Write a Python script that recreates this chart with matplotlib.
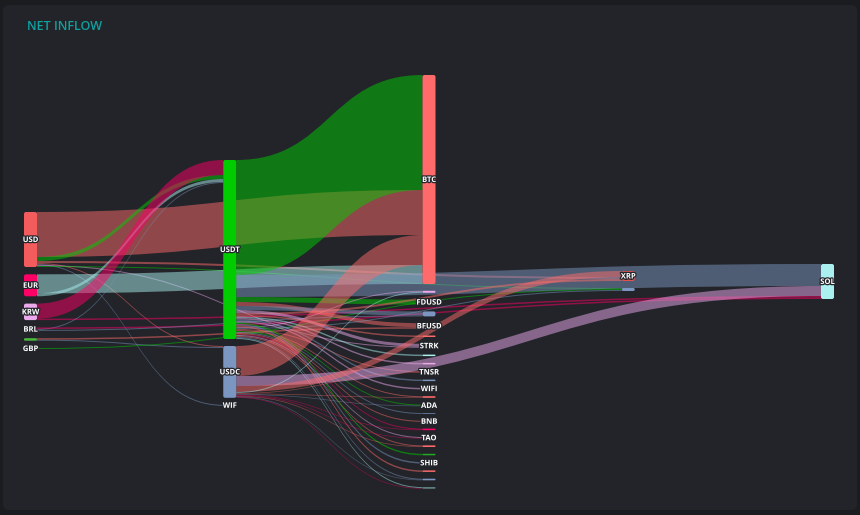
import matplotlib
matplotlib.use('Agg')
import matplotlib.pyplot as plt
from matplotlib.path import Path
from matplotlib.patches import PathPatch, FancyBboxPatch
import matplotlib.patheffects as pe

# ==== data ====
NODE_IDS = ["USD", "EUR", "KRW", "BRL", "g0", "GBP",
            "USDT", "USDC", "WIF",
            "BTC", "n1", "FDUSD", "n3", "BFUSD", "n5", "STRK", "n7", "n8", "TNSR",
            "n10", "WIFI", "n12", "ADA", "n14", "BNB", "n16", "TAO", "n18", "n19",
            "SHIB", "n21", "n22", "n23",
            "XRP", "m1",
            "SOL"]
NODE_LABELS = ["USD", "EUR", "KRW", "BRL", "", "GBP",
               "USDT", "USDC", "WIF",
               "BTC", "", "FDUSD", "", "BFUSD", "", "STRK", "", "", "TNSR",
               "", "WIFI", "", "ADA", "", "BNB", "", "TAO", "", "",
               "SHIB", "", "", "",
               "XRP", "",
               "SOL"]
NODE_COLUMN = [0, 0, 0, 0, 0, 0,
               1, 1, 1,
               2, 2, 2, 2, 2, 2, 2, 2, 2, 2, 2, 2, 2, 2, 2, 2, 2, 2, 2, 2, 2, 2, 2, 2,
               3, 3,
               4]

RED, GREEN, CYAN = "#ff6b6b", "#00cc00", "#aaf0f0"
SLATE, CRIMSON, LAV = "#7b96c0", "#ff0066", "#eba9eb"
NODE_COLORS = ["#f25c5c", CRIMSON, LAV, CRIMSON, "#4cbb3c", SLATE,
               GREEN, SLATE, "#d8c890",
               RED, LAV, GREEN, SLATE, LAV, RED, LAV, CYAN, LAV, RED,
               SLATE, LAV, RED, SLATE, "#5a7090", RED, CRIMSON, LAV, RED, "#22aa22",
               SLATE, RED, SLATE, "#668888",
               "#e85050", SLATE,
               CYAN]

# links: source, target, value, colour
LINK_SOURCE = ["USD", "USD", "USD", "USD", "USD", "USD", "USD",
               "EUR", "EUR", "KRW", "KRW",
               "BRL", "BRL", "BRL", "g0", "g0", "GBP",
               "USDT", "USDT", "USDT", "USDT", "USDT", "USDT", "USDT", "USDT", "USDT",
               "USDT", "USDT", "USDT", "USDT", "USDT", "USDT", "USDT", "USDT", "USDT",
               "USDT", "USDT", "USDT", "USDT", "USDT", "USDT", "USDT", "USDT", "USDT",
               "USDC", "USDC", "USDC", "USDC", "USDC", "USDC", "USDC", "USDC", "USDC",
               "USDC", "USDC", "USDC"]
LINK_TARGET = ["BTC", "USDT", "XRP", "USDC", "WIF", "STRK", "m1",
               "BTC", "USDT", "USDT", "SOL",
               "USDT", "SOL", "n3", "USDC", "BFUSD", "m1",
               "BTC", "SOL", "FDUSD", "BFUSD", "n3", "n1", "XRP", "m1", "STRK",
               "n5", "n7", "n8", "TNSR", "n10", "WIFI", "n12", "ADA", "n14",
               "BNB", "n16", "TAO", "n18", "n19", "SHIB", "n21", "n22", "n23",
               "BTC", "SOL", "XRP", "n1", "TNSR", "n12", "ADA", "n16", "TAO",
               "n18", "n22", "n23"]
LINK_VALUE = [45, 4, 2, 1, 1, 1, 1,
              19, 3, 15, 1.5,
              1, 1.5, 1, 1, 1.5, 1,
              115, 22, 5, 4, 4, 1, 2, 1, 3,
              1.5, 1.5, 1.5, 1, 1.5, 1.5, 1, 1, 1,
              1, 1, 1, 1, 1.5, 1.5, 1.5, 1, 1,
              30, 10, 6, 1, 0.6, 0.6, 0.6, 0.6, 0.6,
              0.6, 0.6, 0.6]
LINK_COLOR = [RED, GREEN, RED, RED, SLATE, LAV, GREEN,
              CYAN, CYAN, CRIMSON, CRIMSON,
              SLATE, CRIMSON, SLATE, SLATE, RED, GREEN,
              GREEN, SLATE, GREEN, RED, SLATE, LAV, RED, SLATE, LAV,
              RED, CYAN, LAV, RED, SLATE, LAV, RED, GREEN, SLATE,
              RED, CRIMSON, LAV, RED, GREEN, SLATE, RED, SLATE, CYAN,
              RED, LAV, RED, CYAN, RED, RED, SLATE, CRIMSON, CRIMSON,
              RED, SLATE, CRIMSON]

# ==== layout (pixel space of the 860x515 canvas) ====
W, H = 860, 515
PLOT_LEFT, PLOT_RIGHT = 24, 834
NODE_W = 13
COL_X = [0.0, 0.25, 0.5, 0.75, 1.0]
COL_TOP = [212, 160, 75, 271, 264]
COL_PAD = [7.3, 7, 6.8, 7, 7]
PX_PER_UNIT = 1.0
LINK_ALPHA = 0.5

idx = {n: i for i, n in enumerate(NODE_IDS)}
n_nodes = len(NODE_IDS)
inflow = [0.0] * n_nodes
outflow = [0.0] * n_nodes
for s, t, v in zip(LINK_SOURCE, LINK_TARGET, LINK_VALUE):
    outflow[idx[s]] += v
    inflow[idx[t]] += v
node_h = [max(i, o) * PX_PER_UNIT for i, o in zip(inflow, outflow)]

node_x = [PLOT_LEFT + COL_X[c] * (PLOT_RIGHT - NODE_W - PLOT_LEFT) for c in NODE_COLUMN]
node_y = [0.0] * n_nodes
cursor = list(COL_TOP)
for i, c in enumerate(NODE_COLUMN):
    node_y[i] = cursor[c]
    cursor[c] += node_h[i] + COL_PAD[c]

# stack link ends on each node, biggest first
order = sorted(range(len(LINK_VALUE)), key=lambda k: (-LINK_VALUE[k], k))
out_off = [0.0] * n_nodes
in_off = [0.0] * n_nodes
ends = {}
for k in order:
    s, t = idx[LINK_SOURCE[k]], idx[LINK_TARGET[k]]
    w = LINK_VALUE[k] * PX_PER_UNIT
    s0 = node_y[s] + out_off[s]
    t0 = node_y[t] + in_off[t]
    out_off[s] += w
    in_off[t] += w
    ends[k] = (s0, t0, w)

fig = plt.figure(figsize=(W / 100, H / 100), dpi=100, facecolor="#1b1c20")
ax = fig.add_axes([0, 0, 1, 1])
ax.set_xlim(0, W)
ax.set_ylim(H, 0)
ax.axis("off")

ax.add_patch(FancyBboxPatch((3, 5), 854, 505, boxstyle="round,pad=0,rounding_size=6",
                            facecolor="#222429", edgecolor="none", zorder=0))

for k in range(len(LINK_VALUE)):
    s, t = idx[LINK_SOURCE[k]], idx[LINK_TARGET[k]]
    s0, t0, w = ends[k]
    xs = node_x[s] + NODE_W
    xt = node_x[t]
    xm = (xs + xt) / 2
    verts = [(xs, s0), (xm, s0), (xm, t0), (xt, t0),
             (xt, t0 + w), (xm, t0 + w), (xm, s0 + w), (xs, s0 + w), (xs, s0)]
    codes = [Path.MOVETO, Path.CURVE4, Path.CURVE4, Path.CURVE4,
             Path.LINETO, Path.CURVE4, Path.CURVE4, Path.CURVE4, Path.CLOSEPOLY]
    ax.add_patch(PathPatch(Path(verts, codes), facecolor=LINK_COLOR[k],
                           alpha=LINK_ALPHA, edgecolor="none", zorder=1))

for i in range(n_nodes):
    h = max(node_h[i], 1.0)
    ax.add_patch(FancyBboxPatch((node_x[i], node_y[i]), NODE_W, h,
                                boxstyle="round,pad=0,rounding_size=%.1f" % min(2, h / 2),
                                facecolor=NODE_COLORS[i], edgecolor="none", zorder=3))
    if NODE_LABELS[i]:
        ax.text(node_x[i] + NODE_W / 2, node_y[i] + h / 2, NODE_LABELS[i],
                ha="center", va="center", fontsize=5.5, color="white",
                family=["Open Sans", "DejaVu Sans"], fontweight="bold", zorder=4,
                path_effects=[pe.withStroke(linewidth=1.8, foreground="#23252b")])

ax.text(27, 30.5, "NET INFLOW", ha="left", va="baseline", fontsize=9, color="#10a0a0",
        family=["Open Sans", "DejaVu Sans"], fontweight="semibold")

fig.savefig("out.png", dpi=100, facecolor=fig.get_facecolor())
